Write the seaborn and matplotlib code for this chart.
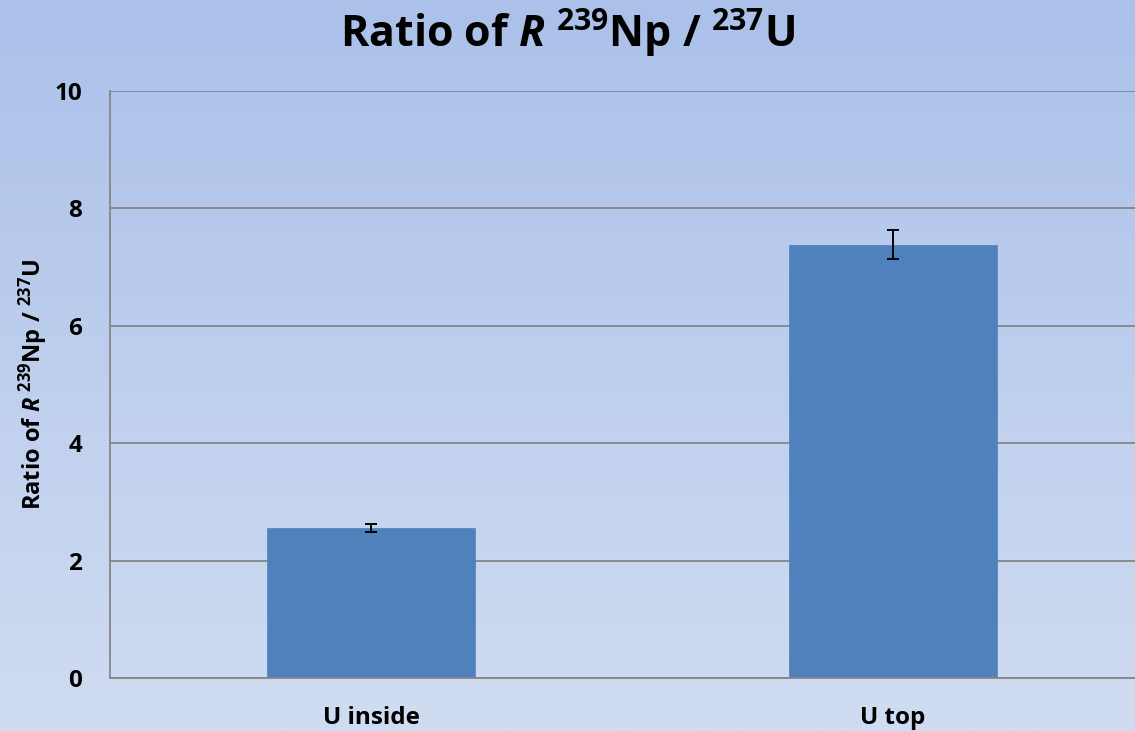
import numpy as np
import pandas as pd
import seaborn as sns
import matplotlib.pyplot as plt
from matplotlib.colors import LinearSegmentedColormap

categories = ['U inside', 'U top']
ratios = [2.56, 7.38]
errors = [0.07, 0.25]
yticks = [0, 2, 4, 6, 8, 10]

sns.set_theme(style='white')
plt.rcParams['font.family'] = ['Open Sans', 'DejaVu Sans']
plt.rcParams['font.weight'] = 'bold'
plt.rcParams['text.color'] = 'black'
plt.rcParams['axes.labelcolor'] = 'black'
plt.rcParams['mathtext.fontset'] = 'custom'
plt.rcParams['mathtext.rm'] = 'Open Sans:bold'
plt.rcParams['mathtext.it'] = 'Open Sans:bold:italic'
plt.rcParams['mathtext.bf'] = 'Open Sans:bold'

fig = plt.figure(figsize=(11.35, 7.31), dpi=100)

# gradient background
bg = fig.add_axes([0, 0, 1, 1], zorder=-10)
cmap = LinearSegmentedColormap.from_list('bg', ['#abc1ea', '#d0dcf1'])
bg.imshow(np.linspace(0, 1, 256).reshape(-1, 1), aspect='auto', cmap=cmap,
          extent=[0, 1, 0, 1])
bg.set_axis_off()

ax = fig.add_axes([110 / 1135, 53 / 731, 1044 / 1135, 587 / 731])
ax.patch.set_alpha(0)

df = pd.DataFrame({'category': categories, 'ratio': ratios, 'err': errors})
sns.barplot(data=df, x='category', y='ratio', color='#4f81bd', saturation=1,
            width=0.4, errorbar=None, ax=ax, zorder=3, edgecolor='#4f81bd',
            linewidth=0.5)
ax.errorbar(x=np.arange(len(df)), y=df['ratio'], yerr=df['err'], fmt='none',
            ecolor='black', elinewidth=1.4, capsize=4.5, capthick=1.4, zorder=4)

ax.set_xlim(-0.5, 1.5)
ax.set_ylim(0, 10)
ax.set_yticks(yticks)
ax.yaxis.grid(True, color='#858585', linewidth=1.3, zorder=0)
ax.set_axisbelow(True)

for s in ['top', 'right']:
    ax.spines[s].set_visible(False)
for s in ['left', 'bottom']:
    ax.spines[s].set_color('#858585')
    ax.spines[s].set_linewidth(1.3)
    ax.spines[s].set_zorder(5)

ax.set_xticks([-0.5, 0.5, 1.5], minor=True)
ax.tick_params(axis='x', which='major', length=0, pad=20, labelsize=17.5)
ax.tick_params(axis='x', which='minor', length=7, width=1.3, color='#858585',
               direction='out')
ax.tick_params(axis='y', length=6, width=1.3, color='#858585', direction='out',
               pad=14, labelsize=17.5)
ax.tick_params(axis='both', labelcolor='black')
for lab in ax.get_xticklabels() + ax.get_yticklabels():
    lab.set_fontweight('bold')

ax.set_xlabel('')
ax.set_ylabel(r'Ratio of $\mathit{R}$ $^{239}$Np / $^{237}$U', fontsize=17,
              fontweight='bold', labelpad=3, color='black')

fig.suptitle(r'Ratio of $\mathit{R}$ $^{239}$Np / $^{237}$U', fontsize=31,
             fontweight='bold', y=0.99, va='top', color='black')

fig.savefig('out.png', dpi=100)
